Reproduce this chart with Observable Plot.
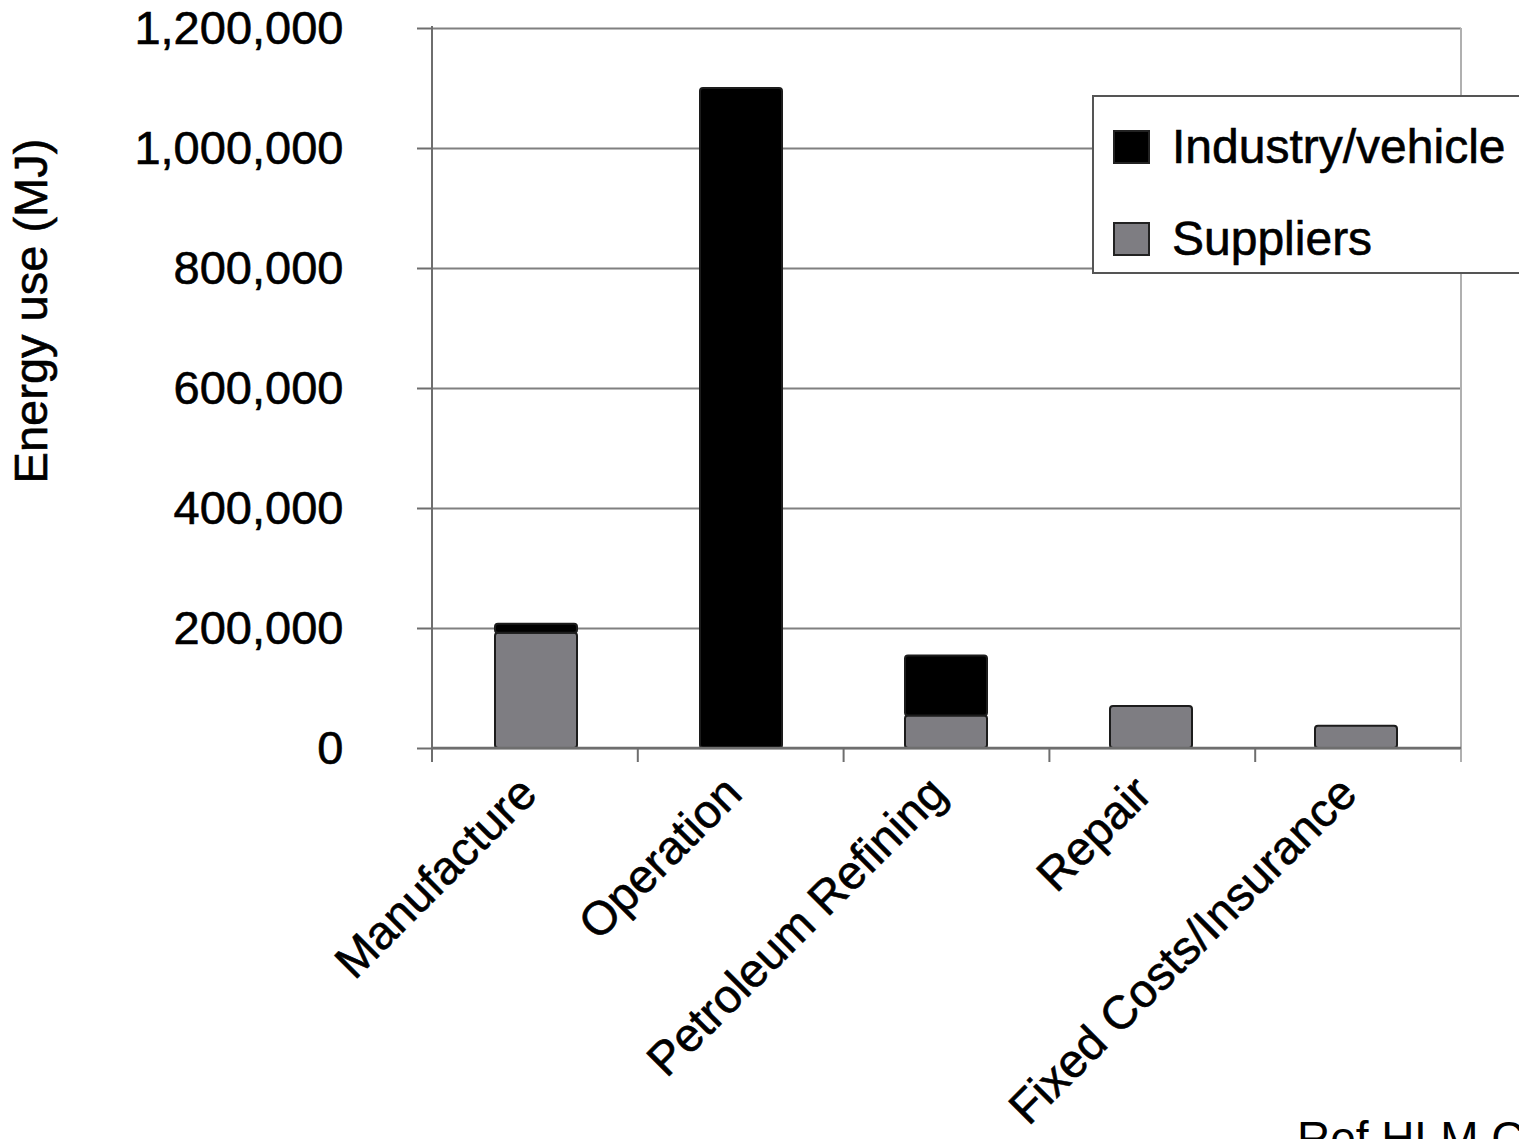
<!DOCTYPE html>
<html>
<head>
<meta charset="utf-8">
<script src="https://cdn.jsdelivr.net/npm/d3@7"></script>
<script src="https://cdn.jsdelivr.net/npm/@observablehq/plot@0.6"></script>
<style>
  html, body { margin: 0; padding: 0; background: #fff; }
  body { position: relative; width: 1519px; height: 1139px; overflow: hidden;
         font-family: "Liberation Sans", Arial, Helvetica, sans-serif; color: #000; }
  #chart { position: absolute; left: 0; top: 0; }
  #chart svg text { stroke: #000; stroke-width: 0.6px; }
  .ytitle { position: absolute; left: 30px; top: 311px; font-size: 47px; line-height: 47px;
            white-space: nowrap; transform: translate(-50%, -50%) rotate(-90deg);
            -webkit-text-stroke: 0.6px #000; }
  .legend { position: absolute; left: 1092px; top: 95px; width: 470px; height: 179px;
            box-sizing: border-box; border: 2px solid #555; background: #fff; padding-top: 4px; }
  .legend .row { display: flex; align-items: center; height: 92px; padding-left: 19px; }
  .legend .sw { width: 37px; height: 34px; box-sizing: border-box; border: 2px solid #222;
                margin-right: 22px; flex: none; }
  .legend .lbl { font-size: 48px; line-height: 48px; white-space: nowrap; -webkit-text-stroke: 0.6px #000; }
  .caption { position: absolute; left: 1297px; top: 1115px; font-size: 46px; line-height: 46px;
             white-space: nowrap; }
</style>
</head>
<body>
<div id="chart"></div>
<div class="ytitle">Energy use (MJ)</div>
<div class="legend" id="legend"></div>
<div class="caption">Ref HLM C</div>
<script>
// Life-cycle energy use of a vehicle, split by who consumes it
const categories = ["Manufacture", "Operation", "Petroleum Refining", "Repair", "Fixed Costs/Insurance"];
const suppliers = [192000, 0, 54000, 70000, 37000];
const industryVehicle = [15000, 1100000, 100000, 0, 0];
const yTicks = [0, 200000, 400000, 600000, 800000, 1000000, 1200000];
const seriesNames = ["Industry/vehicle", "Suppliers"];
const seriesColors = ["#000000", "#7e7d82"];

// long format; suppliers first so they sit at the bottom of each stack
const rows = categories.flatMap((c, i) => [
  {category: c, series: "Suppliers", value: suppliers[i]},
  {category: c, series: "Industry/vehicle", value: industryVehicle[i]}
]).filter(d => d.value > 0);

// left axis line, right plot edge and the tick marks between categories
function frameLines(index, scales, values, dims) {
  const {width, height, marginLeft, marginRight, marginTop, marginBottom} = dims;
  const x0 = marginLeft, x1 = width - marginRight;
  const yTop = marginTop, yBase = height - marginBottom;
  const step = (x1 - x0) / categories.length;
  const g = d3.create("svg:g");
  g.append("line").attr("x1", x1).attr("x2", x1).attr("y1", yTop).attr("y2", yBase + 14)
    .attr("stroke", "#b0b0b0").attr("stroke-width", 2);
  g.append("line").attr("x1", x0).attr("x2", x1).attr("y1", yBase).attr("y2", yBase)
    .attr("stroke", "#6e6e6e").attr("stroke-width", 2.5);
  d3.range(categories.length).forEach(i => {
    const xx = x0 + i * step;
    g.append("line").attr("x1", xx).attr("x2", xx).attr("y1", yBase).attr("y2", yBase + 14)
      .attr("stroke", "#6e6e6e").attr("stroke-width", 2);
  });
  g.append("line").attr("x1", x0).attr("x2", x0).attr("y1", yTop - 2).attr("y2", yBase + 14)
    .attr("stroke", "#6e6e6e").attr("stroke-width", 2);
  return g.node();
}

const chart = Plot.plot({
  width: 1519,
  height: 1139,
  marginLeft: 432,
  marginRight: 58,
  marginTop: 28,
  marginBottom: 391,
  style: {fontFamily: "Liberation Sans, Arial, Helvetica, sans-serif", fontSize: "46px", color: "#000", background: "transparent"},
  x: {domain: categories, paddingInner: 0.6, paddingOuter: 0.3, label: null},
  y: {domain: [0, 1200000], label: null},
  color: {domain: seriesNames, range: seriesColors},
  marks: [
    Plot.gridY(yTicks, {stroke: "#808080", strokeOpacity: 1, strokeWidth: 2}),
    Plot.barY(rows, {x: "category", y: "value", fill: "series", stroke: "#1c1c1c", strokeWidth: 2, rx: 3}),
    frameLines,
    Plot.axisY(yTicks, {tickFormat: d3.format(","), tickSize: 15, tickPadding: 74, stroke: "#6e6e6e", strokeWidth: 2, fontSize: 47, label: null}),
    Plot.axisX({tickSize: 0, tickRotate: -45, tickPadding: 20, fontSize: 47, dx: -8, dy: 17, label: null})
  ]
});
document.getElementById("chart").appendChild(chart);

// legend built from the same series names and colours
const legend = d3.select("#legend");
seriesNames.forEach((name, i) => {
  const row = legend.append("div").attr("class", "row");
  row.append("div").attr("class", "sw").style("background", seriesColors[i]);
  row.append("div").attr("class", "lbl").text(name);
});
</script>
</body>
</html>
